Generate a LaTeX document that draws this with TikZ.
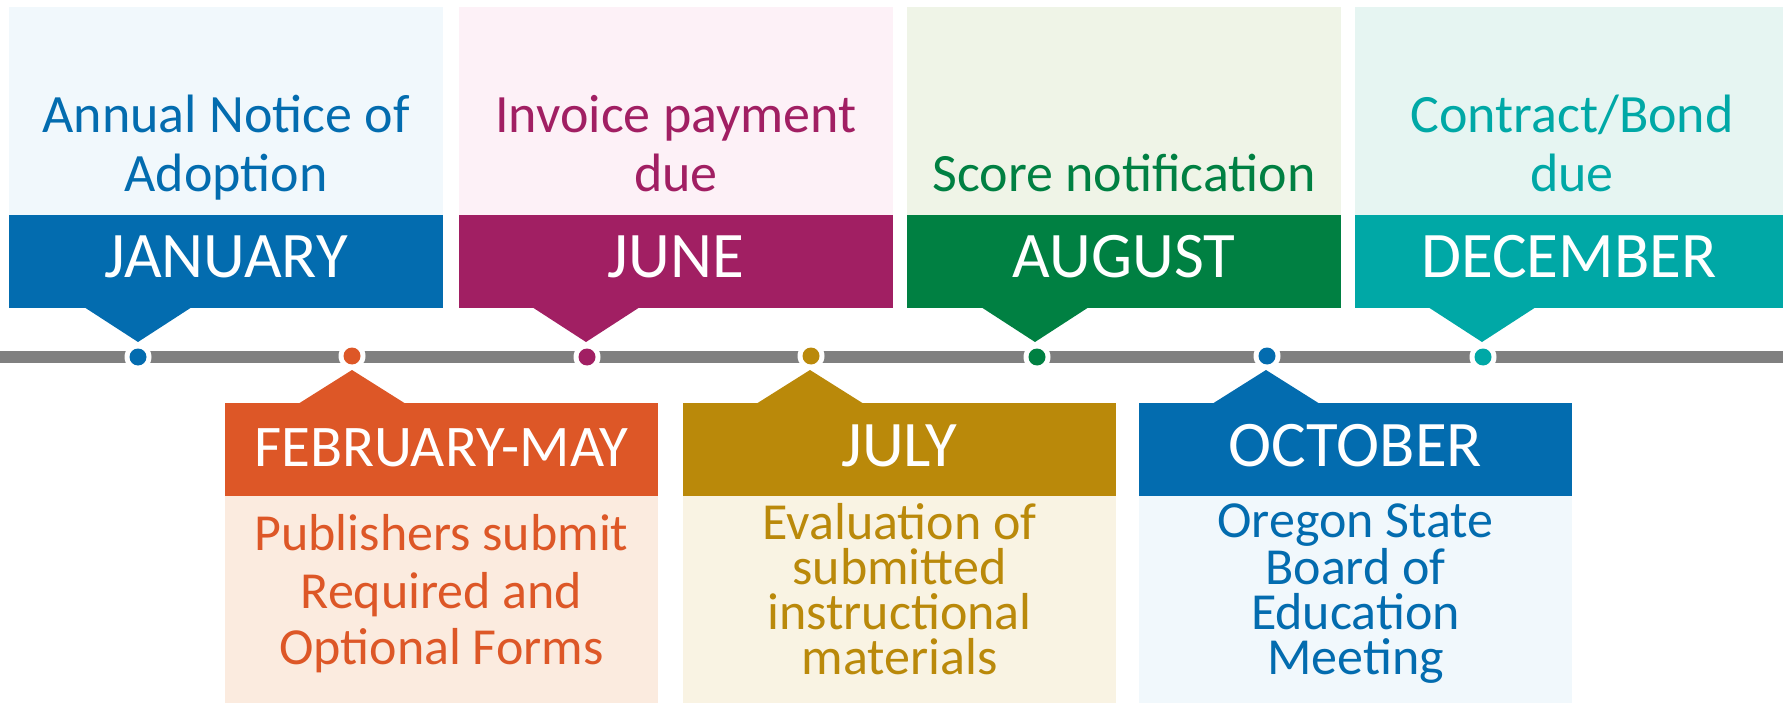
\documentclass[tikz,border=0pt]{standalone}
\usepackage{fontspec}
\setmainfont{Carlito}
\definecolor{cblue}{HTML}{036CAF}
\definecolor{lblue}{HTML}{F1F8FC}
\definecolor{cmag}{HTML}{A11F63}
\definecolor{lmag}{HTML}{FDF1F7}
\definecolor{cgreen}{HTML}{008042}
\definecolor{lgreen}{HTML}{EFF4E7}
\definecolor{cteal}{HTML}{00A8A6}
\definecolor{lteal}{HTML}{E6F5F2}
\definecolor{corange}{HTML}{DD5727}
\definecolor{lorange}{HTML}{FBEBDF}
\definecolor{cgold}{HTML}{BA890A}
\definecolor{lgold}{HTML}{F9F3E3}
\definecolor{cline}{HTML}{808080}
\begin{document}
\begin{tikzpicture}[x=1pt,y=-1pt,
  band/.style={text=white,font=\fontsize{65}{65}\selectfont,inner sep=0pt,
    minimum width=434pt,text height=63pt,text depth=30pt},
  desc/.style={font=\fontsize{54}{54}\selectfont,anchor=base,inner sep=0pt},
  descb/.style={font=\fontsize{52}{52}\selectfont,anchor=base,inner sep=0pt},
  desct/.style={font=\fontsize{52}{45}\selectfont,align=center,anchor=base,inner sep=0pt},
  ring/.style={circle,fill=white,minimum size=27pt,inner sep=0pt},
  dotc/.style={circle,minimum size=17pt,inner sep=0pt}]
\useasboundingbox (0,0) rectangle (1783,703);
% timeline
\coordinate (tl) at (0,357);
\coordinate (tr) at (1783,357);
\draw[cline,line width=12pt] (tl) -- (tr);

% ---------- top boxes ----------
% JANUARY
\fill[lblue] (9,7) rectangle (443,215);
\node[band,fill=cblue] (jan) at (226,261.5) {JANUARY};
\fill[cblue] (84,307) -- (192,307) -- (138,342) -- cycle;
\node[desc,text=cblue] (jan1) at (226,133) {Annual Notice of};
\node[desc,text=cblue] (jan2) at (226,192) {Adoption};
% JUNE
\fill[lmag] (459,7) rectangle (893,215);
\node[band,fill=cmag] (jun) at (676,261.5) {JUNE};
\fill[cmag] (532,307) -- (640,307) -- (586,342) -- cycle;
\node[desc,text=cmag] (jun1) at (676,133) {Invoice payment};
\node[desc,text=cmag] (jun2) at (676,192) {due};
% AUGUST
\fill[lgreen] (907,7) rectangle (1341,215);
\node[band,fill=cgreen] (aug) at (1124,261.5) {AUGUST};
\fill[cgreen] (981,307) -- (1089,307) -- (1035,342) -- cycle;
\node[desc,text=cgreen] (aug1) at (1124,192) {Score notification};
% DECEMBER
\fill[lteal] (1355,7) rectangle (1783,215);
\node[band,fill=cteal,minimum width=428pt] (dec) at (1569,261.5) {DECEMBER};
\fill[cteal] (1428,307) -- (1536,307) -- (1482,342) -- cycle;
\node[desc,text=cteal] (dec1) at (1572,133) {Contract/Bond};
\node[desc,text=cteal] (dec2) at (1572,192) {due};

% ---------- bottom boxes ----------
% FEBRUARY-MAY
\fill[lorange] (225,496) rectangle (658,703);
\node[band,fill=corange,minimum width=433pt,font=\fontsize{59}{59}\selectfont] (feb) at (441.5,449.5) {FEBRUARY-MAY};
\fill[corange] (298,404) -- (406,404) -- (352,370) -- cycle;
\node[descb,text=corange] (feb1) at (441.5,550) {Publishers submit};
\node[descb,text=corange] (feb2) at (441.5,608) {Required and};
\node[descb,text=corange] (feb3) at (441.5,664) {Optional Forms};
% JULY
\fill[lgold] (683,496) rectangle (1116,703);
\node[band,fill=cgold,minimum width=433pt] (jul) at (899.5,449.5) {JULY};
\fill[cgold] (756,404) -- (864,404) -- (810,370) -- cycle;
\node[desct,text=cgold] (jult) at (899.5,674) {Evaluation of\\submitted\\instructional\\materials};
% OCTOBER
\fill[lblue] (1139,496) rectangle (1572,703);
\node[band,fill=cblue,minimum width=433pt] (oct) at (1355.5,449.5) {OCTOBER};
\fill[cblue] (1212,404) -- (1320,404) -- (1266,370) -- cycle;
\node[desct,text=cblue] (octt) at (1355.5,674) {Oregon State\\Board of\\Education\\Meeting};

% ---------- dots ----------
\foreach \n/\xx/\yy/\c in {d1/138/357/cblue, d2/352/356/corange, d3/587/357/cmag,
  d4/811/356/cgold, d5/1037/357/cgreen, d6/1267/356/cblue, d7/1483/357/cteal}{
  \node[ring] (\n) at (\xx,\yy) {};
  \node[dotc,fill=\c] (\n c) at (\n) {};
}
\end{tikzpicture}
\end{document}
